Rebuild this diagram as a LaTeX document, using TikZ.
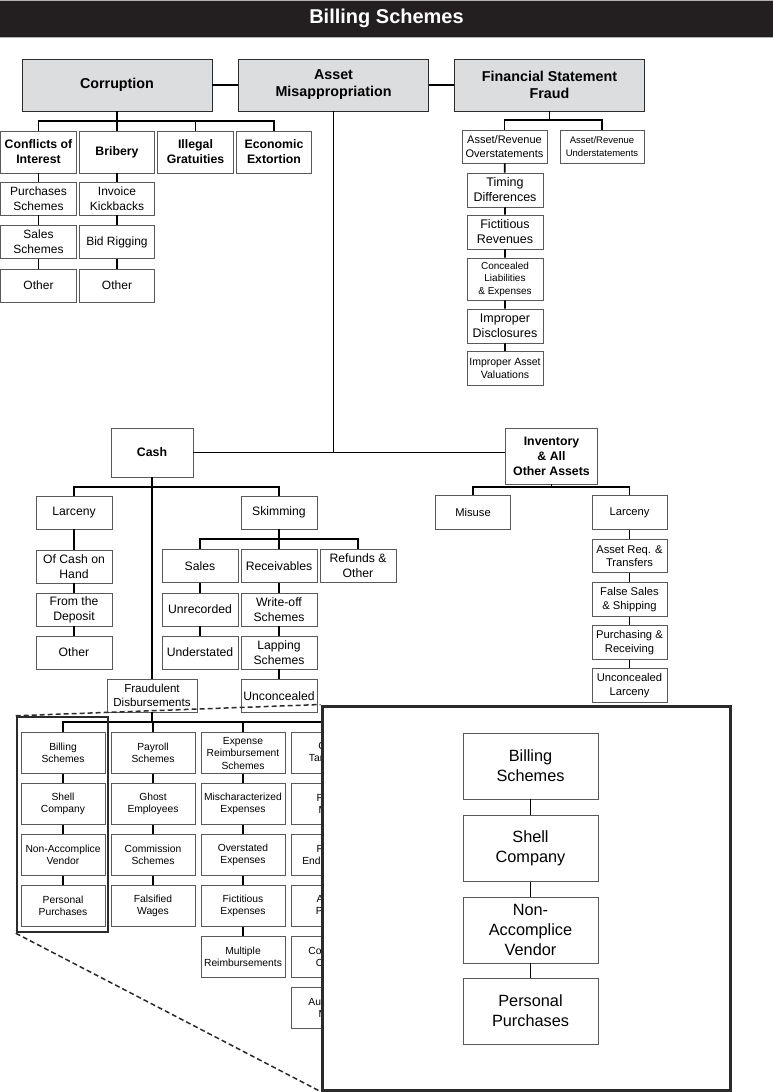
\documentclass[tikz,border=0pt]{standalone}
\usepackage{fontspec}
\setmainfont{Liberation Sans}
\definecolor{barblack}{HTML}{231F20}
\definecolor{headgray}{HTML}{DCDDDF}
\definecolor{boxline}{HTML}{58595B}
\definecolor{frameline}{HTML}{2B2B2B}

\begin{document}
\begin{tikzpicture}[x=1pt,y=-1pt,
	box/.style={draw=boxline,line width=.9pt,fill=white,align=center,inner sep=0pt},
	titlebar/.style={fill=barblack,draw=gray!60,minimum width=775,minimum height=37,inner sep=0pt,text=white,font=\bfseries\fontsize{20}{24}\selectfont},
	headbox/.style={box,draw=frameline,fill=headgray,minimum width=190,minimum height=52,font=\bfseries\fontsize{14.3}{17}\selectfont},
	catbox/.style={box,minimum width=75.5,minimum height=42,font=\bfseries\fontsize{12.3}{15}\selectfont},
	corrbox/.style={box,minimum width=75.5,minimum height=33,font=\fontsize{12}{15}\selectfont},
	fsfbox/.style={box,minimum width=76,minimum height=34,font=\fontsize{12.5}{15}\selectfont},
	cashbox/.style={box,minimum width=76,minimum height=33,font=\fontsize{12.2}{15}\selectfont},
	invbox/.style={box,minimum width=75,minimum height=33.5,font=\fontsize{11.2}{13.5}\selectfont},
	assetbox/.style={box,font=\bfseries\fontsize{12.3}{15}\selectfont},
	disbbox/.style={box,minimum width=84,minimum height=41,font=\fontsize{10.3}{12.5}\selectfont},
	bigbox/.style={box,minimum width=135,minimum height=66,font=\fontsize{16.3}{20}\selectfont},
	conn/.style={line width=1.7pt,black},
	zoomlink/.style={line width=1.5pt,frameline,dash pattern=on 5pt off 3pt},
	]
	\useasboundingbox (0,0) rectangle (773,1092);
	
	\node[titlebar] (title) at (386.5,18.5) {Billing Schemes};
	
	\node[headbox] (corr) at (117,85) {Corruption};
	\node[headbox] (am) at (333.5,85) {Asset\\Misappropriation};
	\node[headbox] (fsf) at (549.5,85) {Financial Statement\\Fraud};
	\draw[conn] (corr) -- (am) -- (fsf);
	
	
	\coordinate (corrbus) at (117,121);
	\node[catbox] (coi) at (38.5,152) {Conflicts of\\Interest};
	\node[catbox] (brib) at (117,152) {Bribery};
	\node[catbox] (illg) at (195.5,152) {Illegal\\Gratuities};
	\node[catbox] (extort) at (274,152) {Economic\\Extortion};
	
	\node[corrbox] (purch) at (38.5,198.5) {Purchases\\Schemes};
	\node[corrbox] (salesch) at (38.5,242) {Sales\\Schemes};
	\node[corrbox] (othera) at (38.5,285.5) {Other};
	\node[corrbox] (kickb) at (117,198.5) {Invoice\\Kickbacks};
	\node[corrbox] (bidrig) at (117,242) {Bid Rigging};
	\node[corrbox] (otherb) at (117,285.5) {Other};
	
	\draw[conn] (corr) -- (corrbus) (coi) |- (corrbus) (brib) |- (corrbus) (illg) |- (corrbus) (extort) |- (corrbus);
	\draw[conn] (coi) -- (purch) -- (salesch) -- (othera);
	\draw[conn] (brib) -- (kickb) -- (bidrig) -- (otherb);
	
	
	\coordinate (fsfbus) at (549.5,120);
	\node[box,minimum width=85,minimum height=33,font=\fontsize{11}{13.5}\selectfont] (arover) at (504.5,146.5) {Asset/Revenue\\Overstatements};
	\node[box,minimum width=84,minimum height=33,font=\fontsize{9.5}{12.5}\selectfont] (arunder) at (602,146.5) {Asset/Revenue\\Understatements};
	\node[fsfbox] (timing) at (505,190) {Timing\\Differences};
	\node[fsfbox] (fictrev) at (505,232) {Fictitious\\Revenues};
	\node[fsfbox,minimum height=42,font=\fontsize{10}{12.5}\selectfont] (conceal) at (505,279) {Concealed\\Liabilities\\\& Expenses};
	\node[fsfbox] (discl) at (505,326) {Improper\\Disclosures};
	\node[fsfbox,font=\fontsize{10.5}{13}\selectfont] (valuat) at (505,368.5) {Improper Asset\\Valuations};
	
	\draw[conn] (fsf) -- (fsfbus) (arover) |- (fsfbus) (arunder) |- (fsfbus);
	\draw[conn] (arover) -- (timing) -- (fictrev) -- (conceal) -- (discl) -- (valuat);
	
	
	\node[assetbox,minimum width=82,minimum height=49] (cash) at (152,452.5) {Cash};
	\node[assetbox,minimum width=92,minimum height=56] (inv) at (551.5,456) {Inventory\\\& All\\Other Assets};
	\draw[conn] (cash.east) -- (cash.east -| inv.west);
	\draw[conn] (am) -- (am.south |- cash.east);
	
	\coordinate (cashbus) at (152,487);
	\node[cashbox] (clarc) at (74,512.5) {Larceny};
	\node[cashbox] (skim) at (279,512.5) {Skimming};
	\node[cashbox] (onhand) at (74,566.5) {Of Cash on\\Hand};
	\node[cashbox] (deposit) at (74,609.5) {From the\\Deposit};
	\node[cashbox] (otherc) at (74,652.5) {Other};
	
	\coordinate (skimbus) at (279,539);
	\node[cashbox] (sales) at (200,566) {Sales};
	\node[cashbox] (recv) at (279,566) {Receivables};
	\node[cashbox] (refund) at (358,566) {Refunds \&\\Other};
	\node[cashbox] (unrec) at (200,609.5) {Unrecorded};
	\node[cashbox] (understd) at (200,652.5) {Understated};
	\node[cashbox] (writeoff) at (279,609.5) {Write-off\\Schemes};
	\node[cashbox] (lapping) at (279,652.5) {Lapping\\Schemes};
	\node[cashbox] (unconc) at (279,696) {Unconcealed};
	\node[cashbox,minimum width=90,font=\fontsize{11.6}{14.5}\selectfont] (fraudd) at (152,695.5) {Fraudulent\\Disbursements};
	
	\draw[conn] (cash) -- (fraudd);
	\draw[conn] (clarc) |- (cashbus) (skim) |- (cashbus);
	\draw[conn] (clarc) -- (onhand) -- (deposit) -- (otherc);
	\draw[conn] (skim) -- (skimbus) (sales) |- (skimbus) (refund) |- (skimbus) (recv) -- (skimbus);
	\draw[conn] (sales) -- (unrec) -- (understd);
	\draw[conn] (recv) -- (writeoff) -- (lapping) -- (unconc);
	
	\coordinate (invbus) at (551.5,487);
	\node[invbox] (misuse) at (473,512.5) {Misuse};
	\node[invbox] (ilarc) at (629.5,512.5) {Larceny};
	\node[invbox] (assetreq) at (629.5,556) {Asset Req. \&\\Transfers};
	\node[invbox] (falsesale) at (629.5,599.5) {False Sales\\\& Shipping};
	\node[invbox] (purchrec) at (629.5,642.5) {Purchasing \&\\Receiving};
	\node[invbox] (unclarc) at (629.5,685.5) {Unconcealed\\Larceny};
	
	\draw[conn] (inv) -- (invbus) (misuse) |- (invbus) (ilarc) |- (invbus);
	\draw[conn] (ilarc) -- (assetreq) -- (falsesale) -- (purchrec) -- (unclarc);
	
	
	\coordinate (disbbus) at (152,722);
	\node[disbbox] (billing) at (63,753) {Billing\\Schemes};
	\node[disbbox] (shell) at (63,804) {Shell\\Company};
	\node[disbbox] (nonacc) at (63,855) {Non-Accomplice\\Vendor};
	\node[disbbox] (perspur) at (63,906) {Personal\\Purchases};
	
	\node[disbbox] (payroll) at (153,753) {Payroll\\Schemes};
	\node[disbbox] (ghost) at (153,804) {Ghost\\Employees};
	\node[disbbox] (commis) at (153,855) {Commission\\Schemes};
	\node[disbbox] (falsew) at (153,906) {Falsified\\Wages};
	
	\node[disbbox] (expreimb) at (243,753) {Expense\\Reimbursement\\Schemes};
	\node[disbbox] (mischar) at (243,804) {Mischaracterized\\Expenses};
	\node[disbbox] (overst) at (243,855) {Overstated\\Expenses};
	\node[disbbox] (fictexp) at (243,906) {Fictitious\\Expenses};
	\node[disbbox] (multreimb) at (243,957) {Multiple\\Reimbursements};
	
	\node[disbbox] (chktamp) at (333,753) {Check\\Tampering};
	\node[disbbox] (forgmak) at (333,804) {Forged\\Maker};
	\node[disbbox] (forgend) at (333,855) {Forged\\Endorsement};
	\node[disbbox] (altpay) at (333,906) {Altered\\Payees};
	\node[disbbox] (concchk) at (333,957) {Concealed\\Checks};
	\node[disbbox] (authmak) at (333,1008) {Authorized\\Maker};
	
	\draw[conn] (fraudd) -- (disbbus) (billing) |- (disbbus) (payroll) |- (disbbus) (expreimb) |- (disbbus) (chktamp) |- (disbbus);
	\draw[conn] (billing) -- (shell) -- (nonacc) -- (perspur);
	\draw[conn] (payroll) -- (ghost) -- (commis) -- (falsew);
	\draw[conn] (expreimb) -- (mischar) -- (overst) -- (fictexp) -- (multreimb);
	\draw[conn] (chktamp) -- (forgmak) -- (forgend) -- (altpay) -- (concchk) -- (authmak);
	
	
	\node[draw=frameline,line width=2.5pt,minimum width=91,minimum height=215] (selwin) at (62.5,824.5) {};
	\node[draw=frameline,fill=white,line width=3pt,minimum width=408,minimum height=384] (zoomwin) at (526,898) {};
	\draw[zoomlink] (selwin.north west) -- (zoomwin.north west);
	\draw[zoomlink] (selwin.south west) -- (zoomwin.south west);
	
	\node[bigbox] (bbilling) at (530.5,766) {Billing\\Schemes};
	\node[bigbox] (bshell) at (530.5,848.5) {Shell\\Company};
	\node[bigbox] (bnonacc) at (530.5,930) {Non-\\Accomplice\\Vendor};
	\node[bigbox] (bperspur) at (530.5,1011) {Personal\\Purchases};
	\draw[conn] (bbilling) -- (bshell) -- (bnonacc) -- (bperspur);
	
\end{tikzpicture}
\end{document}
